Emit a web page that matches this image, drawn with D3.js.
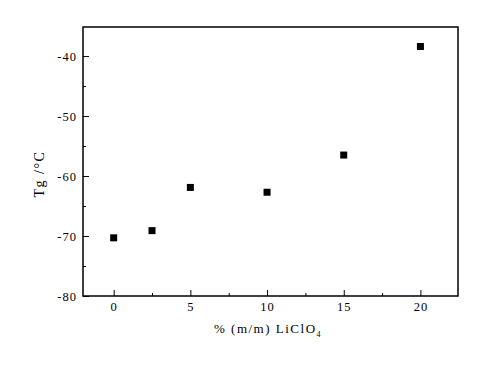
<!DOCTYPE html>
<html><head><meta charset="utf-8">
<script src="https://cdn.jsdelivr.net/npm/d3@7"></script>
<style>body{margin:0;background:#fff}svg{display:block}text{font-family:"Liberation Serif","Times New Roman",serif;fill:#000}</style>
</head><body>
<svg id="c" width="485" height="369"></svg>
<script>
const xValues = [0, 2.5, 5, 10, 15, 20];
const tgValues = [-70.3, -69.1, -61.9, -62.7, -56.5, -38.4];
const xTicks = [0, 5, 10, 15, 20];
const yTicks = [-80, -70, -60, -50, -40];

const svg = d3.select("#c");
const L = 83, T = 27, R = 458, B = 296;
const x = d3.scaleLinear().domain([-2, 22.45]).range([L, R]);
const y = d3.scaleLinear().domain([-80, -35.15]).range([B, T]);
const fmt = (d) => String(d);

svg.append("rect").attr("x", L).attr("y", T).attr("width", R - L).attr("height", B - T)
  .attr("fill", "none").attr("stroke", "#000").attr("stroke-width", 1.5);

const xa = svg.append("g").attr("transform", `translate(0,${B})`)
  .call(d3.axisBottom(x).tickValues(xTicks).tickSizeInner(-6).tickSizeOuter(0).tickPadding(6.5).tickFormat(fmt));
xa.select(".domain").remove();
xa.selectAll("text").style("font-size", "12.5px").style("letter-spacing", "1px")
  .style("font-family", '"Liberation Serif", serif');
svg.append("g").attr("transform", `translate(0,${B})`)
  .call(d3.axisBottom(x).tickValues([2.5, 7.5, 12.5, 17.5]).tickSizeInner(-3).tickSizeOuter(0).tickFormat(""))
  .select(".domain").remove();

const ya = svg.append("g").attr("transform", `translate(${L},0)`)
  .call(d3.axisLeft(y).tickValues(yTicks).tickSizeInner(-6).tickSizeOuter(0).tickPadding(6).tickFormat(fmt));
ya.select(".domain").remove();
ya.selectAll("text").style("font-size", "12.5px").style("letter-spacing", "1px")
  .style("font-family", '"Liberation Serif", serif');
svg.append("g").attr("transform", `translate(${L},0)`)
  .call(d3.axisLeft(y).tickValues([-75, -65, -55, -45]).tickSizeInner(-3).tickSizeOuter(0).tickFormat(""))
  .select(".domain").remove();

svg.selectAll(".tick line").attr("stroke", "#000").attr("stroke-width", 1);

const s = 7;
svg.append("g").selectAll("rect").data(xValues).join("rect")
  .attr("x", (d) => x(d) - s / 2)
  .attr("y", (d, i) => y(tgValues[i]) - s / 2)
  .attr("width", s).attr("height", s).attr("fill", "#000");

svg.append("text").attr("transform", "translate(44,174) rotate(-90)")
  .attr("text-anchor", "middle").style("font-size", "14px").style("letter-spacing", "1.5px").text("Tg /°C");

const xt = svg.append("text").attr("x", 268).attr("y", 333).attr("text-anchor", "middle")
  .style("font-size", "13px").style("letter-spacing", "1.5px");
xt.append("tspan").text("% (m/m) LiClO");
xt.append("tspan").attr("dy", 4).style("font-size", "8px").text("4");
</script>
</body></html>
